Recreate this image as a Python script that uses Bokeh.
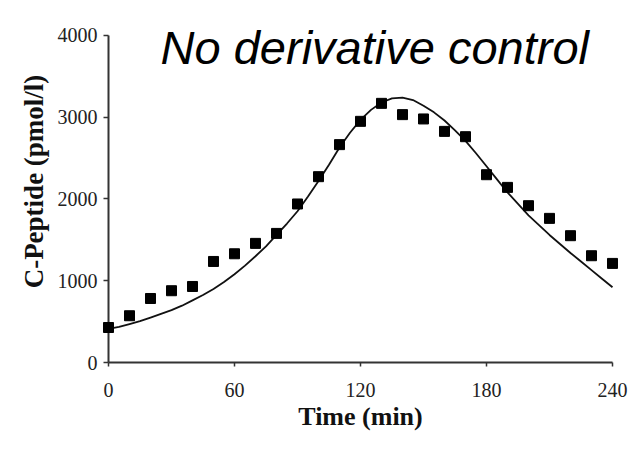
from bokeh.plotting import figure
from bokeh.models import Range1d, FixedTicker, Label
from bokeh.embed import file_html
from bokeh.resources import INLINE

# Measured C-peptide (pmol/l), every 10 min
obs_time = [0, 10, 20, 30, 40, 50, 60, 70, 80, 90, 100, 110, 120,
            130, 140, 150, 160, 170, 180, 190, 200, 210, 220, 230, 240]
obs_cpep = [428, 572, 783, 878, 930, 1236, 1330, 1457, 1579, 1939, 2273, 2665, 2950,
            3170, 3032, 2979, 2827, 2762, 2297, 2142, 1918, 1763, 1551, 1306, 1212]

# Model curve (no derivative control), every 5 min
fit_time = [0, 5, 10, 15, 20, 25, 30, 35, 40, 45, 50, 55, 60, 65, 70, 75, 80, 85, 90,
            95, 100, 105, 110, 115, 120, 125, 130, 135, 140, 145, 150, 155, 160, 165,
            170, 175, 180, 185, 190, 195, 200, 205, 210, 215, 220, 225, 230, 235, 240]
fit_cpep = [410, 435, 470, 505, 550, 595, 640, 695, 760, 825, 900, 985, 1080, 1185, 1300,
            1420, 1560, 1700, 1850, 2030, 2220, 2420, 2630, 2810, 2967, 3090, 3180, 3230,
            3240, 3210, 3140, 3060, 2960, 2840, 2710, 2560, 2400, 2240, 2080, 1940, 1800,
            1680, 1560, 1450, 1340, 1235, 1130, 1025, 920]

x_ticks = [0, 60, 120, 180, 240]
y_ticks = [0, 1000, 2000, 3000, 4000]
title_text = "No derivative control"
x_label = "Time (min)"
y_label = "C-Peptide (pmol/l)"

# y range extends above 4000 so the title inside the frame is not clipped;
# the axis itself is bounded to 0..4000
p = figure(width=628, height=438, output_backend="svg", toolbar_location=None,
           x_range=Range1d(0, 240), y_range=Range1d(0, 4428),
           min_border_left=108, min_border_right=16, min_border_top=0,
           min_border_bottom=76)
p.outline_line_color = None
p.xgrid.grid_line_color = None
p.ygrid.grid_line_color = None
p.background_fill_color = "white"
p.border_fill_color = "white"

fit = p.line(fit_time, fit_cpep, line_color="#111111", line_width=1.8)
fit.level = "overlay"
pts = p.scatter(obs_time, obs_cpep, marker="square", size=10,
                fill_color="black", line_color="black")
pts.level = "overlay"

for ax in (p.xaxis[0], p.yaxis[0]):
    ax.axis_line_color = "#333333"
    ax.axis_line_width = 2
    ax.major_tick_line_color = "#333333"
    ax.major_tick_line_width = 1.5
    ax.minor_tick_line_color = None
    ax.major_tick_in = 0
    ax.major_label_text_font = "Liberation Serif"
    ax.major_label_text_font_size = "20px"
    ax.major_label_text_color = "#222222"
    ax.axis_label_text_font = "Liberation Serif"
    ax.axis_label_text_font_style = "bold"
    ax.axis_label_text_color = "#111111"

p.xaxis[0].axis_label_text_font_size = "26px"
p.yaxis[0].axis_label_text_font_size = "27px"
p.xaxis[0].ticker = FixedTicker(ticks=x_ticks)
p.yaxis[0].ticker = FixedTicker(ticks=y_ticks)
p.yaxis[0].bounds = (0, 4000)
p.xaxis[0].major_tick_out = 4
p.xaxis[0].major_label_standoff = 16
p.xaxis[0].axis_label = x_label
p.xaxis[0].axis_label_standoff = 2
p.yaxis[0].major_tick_out = 5
p.yaxis[0].major_label_standoff = 6
p.yaxis[0].axis_label = y_label
p.yaxis[0].axis_label_standoff = 6

title = Label(x=24.8, y=3853, text=title_text, text_font="Liberation Sans",
              text_font_style="italic", text_font_size="47px", text_color="black",
              text_baseline="alphabetic", text_align="left")
title.level = "overlay"
p.add_layout(title)

open("out.html", "w").write(file_html(p, INLINE))
